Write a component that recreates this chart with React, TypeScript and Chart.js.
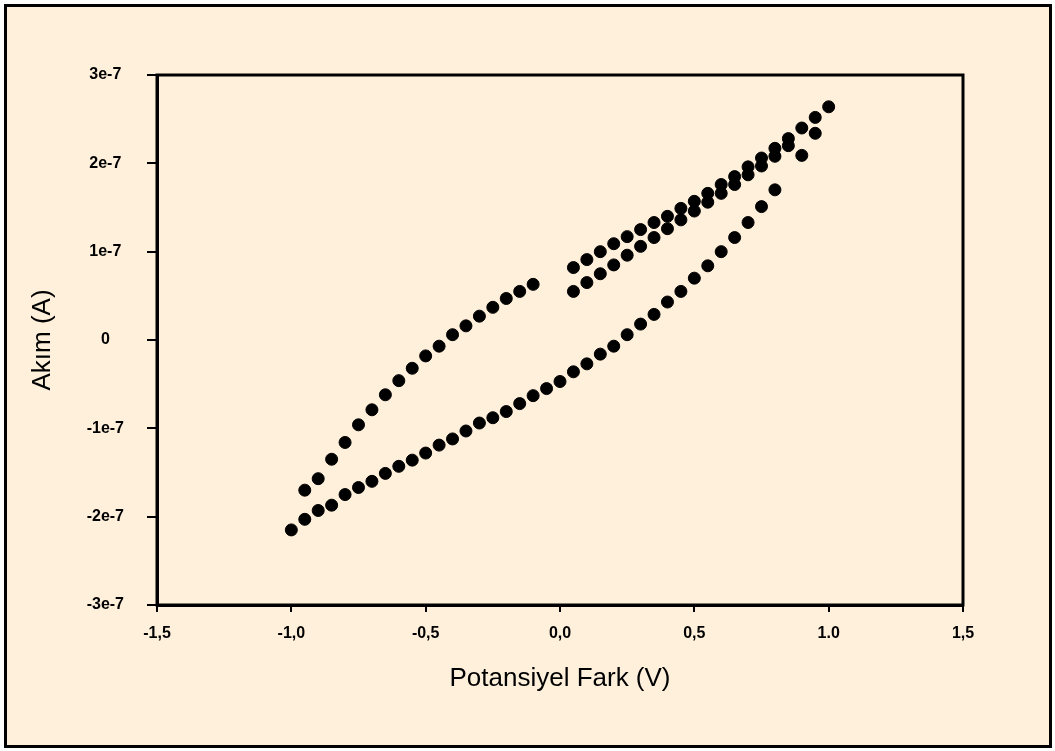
import React, { useEffect, useRef } from "react";
import { Chart, registerables } from "chart.js";

Chart.register(...registerables);

// Forward sweep, -1.0 V up to 0.8 V
const forwardV = [
  -1.0, -0.95, -0.9, -0.85, -0.8, -0.75, -0.7, -0.65, -0.6, -0.55, -0.5, -0.45,
  -0.4, -0.35, -0.3, -0.25, -0.2, -0.15, -0.1, -0.05, 0.0, 0.05, 0.1, 0.15, 0.2,
  0.25, 0.3, 0.35, 0.4, 0.45, 0.5, 0.55, 0.6, 0.65, 0.7, 0.75, 0.8,
];
const forwardI = [
  -2.15e-7, -2.03e-7, -1.93e-7, -1.87e-7, -1.75e-7, -1.67e-7, -1.6e-7, -1.51e-7,
  -1.43e-7, -1.36e-7, -1.28e-7, -1.19e-7, -1.12e-7, -1.03e-7, -0.94e-7, -0.88e-7,
  -0.81e-7, -0.72e-7, -0.63e-7, -0.55e-7, -0.47e-7, -0.36e-7, -0.27e-7, -0.16e-7,
  -0.07e-7, 0.06e-7, 0.18e-7, 0.29e-7, 0.43e-7, 0.55e-7, 0.7e-7, 0.84e-7, 1.0e-7,
  1.16e-7, 1.33e-7, 1.51e-7, 1.7e-7,
];

// Turning region near +1 V
const turnV = [0.9, 0.95, 1.0];
const turnI = [2.09e-7, 2.34e-7, 2.64e-7];

// Reverse sweep, 0.95 V down to 0.05 V
const reverseV = [
  0.95, 0.9, 0.85, 0.8, 0.75, 0.7, 0.65, 0.6, 0.55, 0.5, 0.45, 0.4, 0.35, 0.3,
  0.25, 0.2, 0.15, 0.1, 0.05,
];
const reverseI = [
  2.52e-7, 2.4e-7, 2.28e-7, 2.17e-7, 2.06e-7, 1.96e-7, 1.85e-7, 1.76e-7, 1.66e-7,
  1.57e-7, 1.49e-7, 1.4e-7, 1.33e-7, 1.25e-7, 1.17e-7, 1.09e-7, 1.0e-7, 0.91e-7,
  0.82e-7,
];

// Repeated sweep, 0.05 V up to 0.85 V
const repeatV = [
  0.05, 0.1, 0.15, 0.2, 0.25, 0.3, 0.35, 0.4, 0.45, 0.5, 0.55, 0.6, 0.65, 0.7,
  0.75, 0.8, 0.85,
];
const repeatI = [
  0.55e-7, 0.65e-7, 0.75e-7, 0.85e-7, 0.96e-7, 1.06e-7, 1.16e-7, 1.26e-7, 1.36e-7,
  1.46e-7, 1.56e-7, 1.66e-7, 1.76e-7, 1.87e-7, 1.97e-7, 2.08e-7, 2.2e-7,
];

// Negative return branch, -0.1 V down to -0.95 V
const returnV = [
  -0.1, -0.15, -0.2, -0.25, -0.3, -0.35, -0.4, -0.45, -0.5, -0.55, -0.6, -0.65,
  -0.7, -0.75, -0.8, -0.85, -0.9, -0.95,
];
const returnI = [
  0.63e-7, 0.55e-7, 0.47e-7, 0.37e-7, 0.27e-7, 0.16e-7, 0.06e-7, -0.07e-7,
  -0.18e-7, -0.32e-7, -0.46e-7, -0.62e-7, -0.79e-7, -0.96e-7, -1.16e-7, -1.35e-7,
  -1.57e-7, -1.7e-7,
];

const xTicks = [-1.5, -1.0, -0.5, 0.0, 0.5, 1.0, 1.5];
const xTickLabels = ["-1,5", "-1,0", "-0,5", "0,0", "0,5", "1.0", "1,5"];
const yTicks = [-3e-7, -2e-7, -1e-7, 0, 1e-7, 2e-7, 3e-7];
const yTickLabels = ["-3e-7", "-2e-7", "-1e-7", "0", "1e-7", "2e-7", "3e-7"];

const xTitle = "Potansiyel Fark (V)";
const yTitle = "Akım (A)";

const zip = (xs: number[], ys: number[]) => xs.map((x, i) => ({ x, y: ys[i] }));

const W = 1055;
const H = 751;
const PLOT_LEFT = 157;
const PLOT_RIGHT = 963;
const PLOT_TOP = 75;
const PLOT_BOTTOM = 605;

const tickFont = { family: "'Liberation Sans', Arial, sans-serif", size: 16, weight: "bold" as const };
const titleFont = { family: "'Liberation Sans', Arial, sans-serif", size: 26, weight: "normal" as const };

// Closed black frame around the plotting area
const framePlugin = {
  id: "plotFrame",
  afterDraw(chart: any) {
    const { ctx, chartArea } = chart;
    ctx.save();
    ctx.strokeStyle = "#000";
    ctx.lineWidth = 3;
    ctx.strokeRect(chartArea.left, chartArea.top, chartArea.right - chartArea.left, chartArea.bottom - chartArea.top);
    ctx.restore();
  },
};

export default function App() {
  const canvasRef = useRef<HTMLCanvasElement | null>(null);

  useEffect(() => {
    if (!canvasRef.current) return;
    const pointStyle = {
      showLine: false,
      pointRadius: 6,
      pointHoverRadius: 6,
      pointBackgroundColor: "#000",
      pointBorderColor: "#000",
      pointBorderWidth: 1,
    };
    const chart = new Chart(canvasRef.current, {
      type: "scatter",
      data: {
        datasets: [
          { label: "forward", data: zip(forwardV, forwardI), ...pointStyle },
          { label: "turn", data: zip(turnV, turnI), ...pointStyle },
          { label: "reverse", data: zip(reverseV, reverseI), ...pointStyle },
          { label: "repeat", data: zip(repeatV, repeatI), ...pointStyle },
          { label: "return", data: zip(returnV, returnI), ...pointStyle },
        ],
      },
      options: {
        animation: false,
        responsive: false,
        devicePixelRatio: 1,
        events: [],
        layout: { padding: { top: PLOT_TOP, right: W - PLOT_RIGHT, bottom: 0, left: 0 } },
        plugins: { legend: { display: false }, tooltip: { enabled: false } },
        scales: {
          x: {
            type: "linear",
            min: -1.5,
            max: 1.5,
            afterBuildTicks: (scale: any) => {
              scale.ticks = xTicks.map((value) => ({ value }));
            },
            afterFit: (scale: any) => {
              scale.height = H - PLOT_BOTTOM;
            },
            ticks: {
              color: "#000",
              font: tickFont,
              padding: 12,
              maxRotation: 0,
              autoSkip: false,
              callback: (_v: any, i: number) => xTickLabels[i],
            },
            grid: { display: true, drawOnChartArea: false, drawTicks: true, tickLength: 7, color: "#000", lineWidth: 2 },
            border: { display: true, color: "#000", width: 3 },
            title: { display: true, text: xTitle, color: "#000", font: titleFont, padding: { top: 0, bottom: 57 } },
          },
          y: {
            type: "linear",
            min: -3e-7,
            max: 3e-7,
            afterBuildTicks: (scale: any) => {
              scale.ticks = yTicks.map((value) => ({ value }));
            },
            afterFit: (scale: any) => {
              scale.width = PLOT_LEFT;
            },
            ticks: {
              color: "#000",
              font: tickFont,
              padding: 23,
              crossAlign: "center",
              autoSkip: false,
              callback: (_v: any, i: number) => yTickLabels[i],
            },
            grid: { display: true, drawOnChartArea: false, drawTicks: true, tickLength: 10, color: "#000", lineWidth: 2 },
            border: { display: true, color: "#000", width: 3 },
            title: { display: true, text: yTitle, color: "#000", font: titleFont, padding: { top: 27, bottom: 0 } },
          },
        },
      },
      plugins: [framePlugin],
    } as any);
    return () => chart.destroy();
  }, []);

  return (
    <div style={{ position: "fixed", left: 0, top: 0, width: W, height: H, background: "#fff" }}>
      <div
        style={{
          position: "absolute",
          left: 4,
          top: 4,
          width: W - 7,
          height: H - 7,
          boxSizing: "border-box",
          border: "3px solid #000",
          background: "#FFF0DC",
        }}
      />
      <canvas ref={canvasRef} width={W} height={H} style={{ position: "absolute", left: 0, top: 0 }} />
    </div>
  );
}
